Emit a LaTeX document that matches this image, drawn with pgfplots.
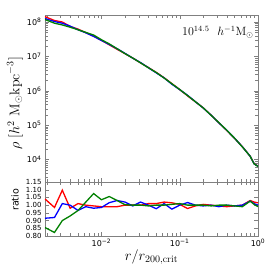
\documentclass[border=0pt]{standalone}
\usepackage{pgfplots}
\pgfplotsset{compat=1.18}
\usepackage{pgfplotstable}
\usepackage{fontspec}
\newfontfamily\dv{DejaVu Sans}
\definecolor{mgreen}{RGB}{0,128,0}

\pgfplotstableread{
x lb rr rb rg
0.0019 8.14 1.04 0.915 0.855
0.002512 8.05 0.985 0.92 0.823
0.003162 7.96 1.097 1.01 0.90
0.003981 7.88 0.98 1.00 0.93
0.005012 7.79 1.01 0.966 0.965
0.006310 7.69 1.00 0.99 1.02
0.007943 7.59 0.995 0.98 1.075
0.01 7.47 0.99 0.985 1.035
0.012589 7.34 0.99 1.016 1.056
0.015849 7.21 0.99 1.03 1.03
0.019953 7.08 1.00 1.02 1.003
0.025119 6.95 1.00 0.995 1.00
0.031623 6.81 1.00 1.02 1.00
0.039811 6.67 1.01 1.00 0.995
0.050119 6.53 1.01 0.977 1.00
0.063096 6.37 1.02 1.01 1.00
0.079433 6.20 1.015 0.974 1.005
0.1 6.03 1.005 1.00 1.01
0.125893 5.86 0.978 1.017 1.00
0.158489 5.68 0.995 1.00 1.00
0.199526 5.50 1.005 0.995 1.00
0.251189 5.29 1.00 1.00 0.995
0.316228 5.07 0.995 0.99 1.00
0.398107 4.85 0.99 1.00 1.00
0.501187 4.62 0.995 0.995 0.995
0.630957 4.37 1.00 1.00 0.99
0.794328 4.08 1.03 1.026 1.026
0.891251 3.87 1.02 1.01 1.005
1.0 3.80 1.015 1.00 0.99
}\prof

\begin{document}
\begin{tikzpicture}
\pgfplotsset{
  every axis/.append style={
    scale only axis, width=213pt, xmode=log, xmin=0.0019, xmax=1,
    axis line style={gray}, tick style={gray},
    tick label style={font=\dv\fontsize{8}{9}\selectfont, black},
    xtick={0.01,0.1,1},
    minor xtick={0.002,0.003,0.004,0.005,0.006,0.007,0.008,0.009,0.02,0.03,0.04,0.05,0.06,0.07,0.08,0.09,0.2,0.3,0.4,0.5,0.6,0.7,0.8,0.9},
  }
}
\begin{axis}[name=top, height=167pt, ymode=log, ymin=2200, ymax=1.6e8,
  xticklabels={},
  ytick={1e4,1e5,1e6,1e7,1e8},
  yticklabels={10\textsuperscript{4},10\textsuperscript{5},10\textsuperscript{6},10\textsuperscript{7},10\textsuperscript{8}},
  minor ytick={3000,4000,5000,6000,7000,8000,9000,2e4,3e4,4e4,5e4,6e4,7e4,8e4,9e4,2e5,3e5,4e5,5e5,6e5,7e5,8e5,9e5,2e6,3e6,4e6,5e6,6e6,7e6,8e6,9e6,2e7,3e7,4e7,5e7,6e7,7e7,8e7,9e7},
  ylabel={$\rho\ [h^2\ \mathrm{M}_\odot\mathrm{kpc}^{-3}]$},
  ylabel style={at={(axis description cs:-0.141,0.47)}, anchor=center, font=\fontsize{14}{16}\selectfont},
]
\addplot[red, line width=1.3pt] table[x=x, y expr={10^(\thisrow{lb})*\thisrow{rr}}] {\prof};
\addplot[blue, line width=1.3pt] table[x=x, y expr={10^(\thisrow{lb})*\thisrow{rb}}] {\prof};
\addplot[mgreen, line width=1.3pt] table[x=x, y expr={10^(\thisrow{lb})*\thisrow{rg}}] {\prof};
\node[anchor=north east, font=\fontsize{12}{14}\selectfont] at (rel axis cs:0.995,0.955) {$10^{14.5}\ \ h^{-1}\mathrm{M}_\odot$};
\end{axis}
\begin{axis}[name=bot, at={(top.south west)}, anchor=north west, height=54pt,
  ymin=0.80, ymax=1.15,
  xticklabels={10\textsuperscript{−2},10\textsuperscript{−1},10\textsuperscript{0}},
  ytick={0.80,0.85,0.90,0.95,1.00,1.05,1.10,1.15},
  yticklabels={0.80,0.85,0.90,0.95,1.00,1.05,1.10,1.15},
  yticklabel style={font=\dv\fontsize{7}{8}\selectfont},
  ylabel={ratio},
  ylabel style={at={(axis description cs:-0.141,0.67)}, anchor=center, font=\dv\fontsize{9.5}{11}\selectfont},
  xlabel={$r/r_{200,\mathrm{crit}}$},
  xlabel style={at={(axis description cs:0.5,-0.39)}, anchor=center, font=\fontsize{14}{16}\selectfont},
]
\addplot[red, line width=1.3pt] table[x=x, y=rr] {\prof};
\addplot[blue, line width=1.3pt] table[x=x, y=rb] {\prof};
\addplot[mgreen, line width=1.3pt] table[x=x, y=rg] {\prof};
\end{axis}
\pgfresetboundingbox
\path[use as bounding box] ([xshift=-45pt,yshift=15pt]top.north west) rectangle ([xshift=8pt,yshift=-30pt]bot.south east);
\end{tikzpicture}
\end{document}
